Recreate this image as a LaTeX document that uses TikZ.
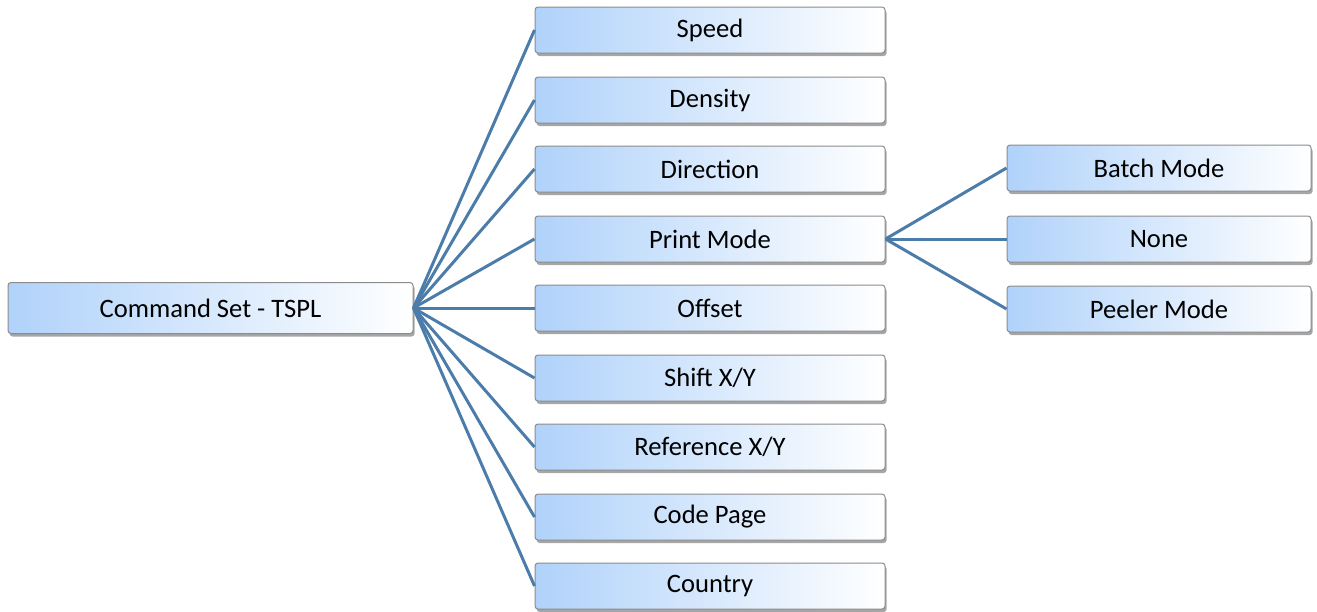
\documentclass[tikz,border=0pt]{standalone}
\usepackage{fontspec}
\setmainfont{Carlito}
\usetikzlibrary{shadows}

\definecolor{boxblue}{RGB}{176,210,250}
\definecolor{linkblue}{RGB}{76,124,170}
\tikzset{
	item/.style={draw=gray!90, line width=0.5pt, rounded corners=1.5pt,
		left color=boxblue, right color=white, shading angle=90,
		drop shadow={shadow xshift=0.8pt, shadow yshift=-1.5pt, opacity=0.35, fill=black},
		minimum width=175pt, minimum height=23pt, inner sep=0pt,
		font=\fontsize{13.3}{16}\selectfont},
	link/.style={draw=linkblue, line width=1.5pt}
}

\begin{document}
\begin{tikzpicture}[x=0.5pt, y=-0.5pt]
%
	\useasboundingbox (0,0) rectangle (1317,611);
%
	\node[item, minimum width=202.5pt, minimum height=25.5pt] (tspl) at (210.5,308) {Command Set - TSPL};
%
	\node[item] (speed) at (710,30) {Speed};
	\node[item] (density) at (710,100) {Density};
	\node[item] (direction) at (710,169) {Direction};
	\node[item] (printmode) at (710,239) {Print Mode};
	\node[item] (offset) at (710,308) {Offset};
	\node[item] (shift) at (710,378) {Shift X/Y};
	\node[item] (reference) at (710,447) {Reference X/Y};
	\node[item] (codepage) at (710,517) {Code Page};
	\node[item] (country) at (710,586) {Country};
%
	\node[item, minimum width=152pt] (batch) at (1159,168) {Batch Mode};
	\node[item, minimum width=152pt] (none) at (1159,239) {None};
	\node[item, minimum width=152pt] (peeler) at (1159,309) {Peeler Mode};
%
	\draw[link] (tspl.east) -- (speed.west);
	\draw[link] (tspl.east) -- (density.west);
	\draw[link] (tspl.east) -- (direction.west);
	\draw[link] (tspl.east) -- (printmode.west);
	\draw[link] (tspl.east) -- (offset.west);
	\draw[link] (tspl.east) -- (shift.west);
	\draw[link] (tspl.east) -- (reference.west);
	\draw[link] (tspl.east) -- (codepage.west);
	\draw[link] (tspl.east) -- (country.west);
%
	\draw[link] (printmode.east) -- (batch.west);
	\draw[link] (printmode.east) -- (none.west);
	\draw[link] (printmode.east) -- (peeler.west);
%
\end{tikzpicture}
\end{document}
